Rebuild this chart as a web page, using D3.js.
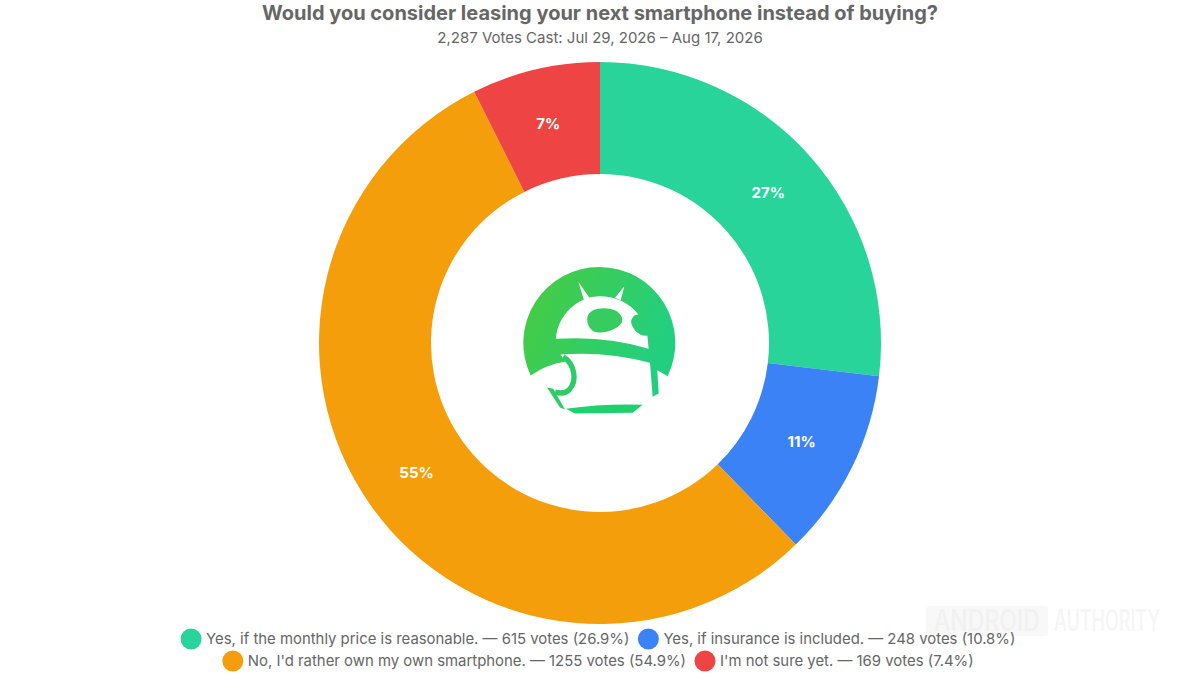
<!DOCTYPE html>
<html><head><meta charset="utf-8">
<script src="https://cdnjs.cloudflare.com/ajax/libs/d3/7.8.5/d3.min.js"></script>
<style>html,body{margin:0;background:#fff}svg{display:block}text{font-family:Inter,sans-serif}</style>
</head><body><svg id="c" width="1200" height="675"></svg>
<script>
const categories=["Yes, if the monthly price is reasonable.","Yes, if insurance is included.","No, I'd rather own my own smartphone.","I'm not sure yet."];
const votes=[615,248,1255,169];
const shares=["26.9%","10.8%","54.9%","7.4%"];
const sliceLabels=["27%","11%","55%","7%"];
const colors=["#29d49b","#3b82f6","#f59e0b","#ef4444"];
const legendRows=[[0,1],[2,3]];
const titleText="Would you consider leasing your next smartphone instead of buying?";
const subtitleText="2,287 Votes Cast: Jul 29, 2026 – Aug 17, 2026";

const svg=d3.select("#c");
const cx=600,cy=343,R=281,r=169;
svg.append("text").attr("x",600).attr("y",19.5).attr("text-anchor","middle").attr("font-size",20).attr("font-weight",700).attr("fill","#666").text(titleText);
svg.append("text").attr("x",600).attr("y",42.5).attr("text-anchor","middle").attr("font-size",15).attr("fill","#666").text(subtitleText);

const pie=d3.pie().sort(null).value(d=>d)(votes);
const arc=d3.arc().innerRadius(r).outerRadius(R);
const g=svg.append("g").attr("transform",`translate(${cx},${cy})`);
g.selectAll("path").data(pie).join("path").attr("d",arc).attr("fill",(d,i)=>colors[i]);
g.selectAll("text").data(pie).join("text").attr("transform",d=>`translate(${arc.centroid(d)})`)
 .attr("text-anchor","middle").attr("dy","0.3em").attr("font-size",15).attr("font-weight",700).attr("fill","#fff").text((d,i)=>sliceLabels[i]);

// logo
const defs=svg.append("defs");
const lg=defs.append("linearGradient").attr("id","lg").attr("x1","0").attr("x2","1").attr("y1","0").attr("y2","0.4");
lg.append("stop").attr("offset","0").attr("stop-color","#4acb3c");
lg.append("stop").attr("offset","1").attr("stop-color","#22cf80");
const L=svg.append("g").attr("transform","translate(500,249.5) scale(0.3333)");
L.append("path").attr("fill","url(#lg)").attr("d","M92,378 A228,228 0 1 1 503,380 L472,362 L476,432 L458,442 L450,340 Q320,305 182,315 L195,337 Q140,345 92,378 Z");
L.append("path").attr("fill","#fff").attr("d","M168,268 C172,195 235,140 300,140 C345,140 390,160 415,195 C400,195 390,210 395,225 C405,250 425,262 442,258 L446,298 Q320,258 168,268 Z");
L.append("path").attr("fill","#fff").attr("d","M235,97 L268,145 L252,152 Z M373,110 L362,152 L345,145 Z");
L.append("path").attr("fill","#37cc60").attr("d","M262,205 C265,180 300,172 330,178 C360,184 372,205 365,220 C350,245 300,255 280,245 C268,238 260,222 262,205 Z");
L.append("path").attr("fill","none").attr("stroke","#2ccd68").attr("stroke-width",16).attr("d","M190,322 C225,345 232,395 208,420 C198,432 180,432 165,428");
L.append("path").attr("fill","#2ccd68").attr("d","M141,414 L160,418 L195,480 L180,474 Z");
L.append("path").attr("fill","#1fd06e").attr("d","M198,478 Q310,462 428,466 L398,490 L225,492 Z");

// watermark
svg.append("rect").attr("x",926).attr("y",606).attr("width",122).attr("height",30).attr("rx",3).attr("fill","#f8f8f8");
[["ANDROID",934,"#f1f1f1"],["AUTHORITY",1054,"#f5f5f5"]].forEach(([s,x,c])=>{
  const t=svg.append("text").attr("font-size",20).attr("font-weight",500).attr("fill",c).text(s);
  const w=t.node().getComputedTextLength();
  t.attr("transform",`translate(${x},631) scale(${106/w},1.5)`);
});

// legend
const rowY=[638,660],mid=598,sw=10.5,gapSw=4.5,gapItem=8.5;
legendRows.forEach((row,ri)=>{
  const lg2=svg.append("g");
  let x=0;
  row.forEach(i=>{
    lg2.append("circle").attr("cx",x+sw).attr("cy",rowY[ri]+1).attr("r",sw).attr("fill",colors[i]);
    const t=lg2.append("text").attr("x",x+2*sw+gapSw).attr("y",rowY[ri]+6).attr("font-size",14.9).attr("fill","#666")
      .text(`${categories[i]} — ${votes[i]} votes (${shares[i]})`);
    x+=2*sw+gapSw+t.node().getComputedTextLength()+gapItem;
  });
  lg2.attr("transform",`translate(${mid-(x-gapItem)/2},0)`);
});
</script></body></html>
